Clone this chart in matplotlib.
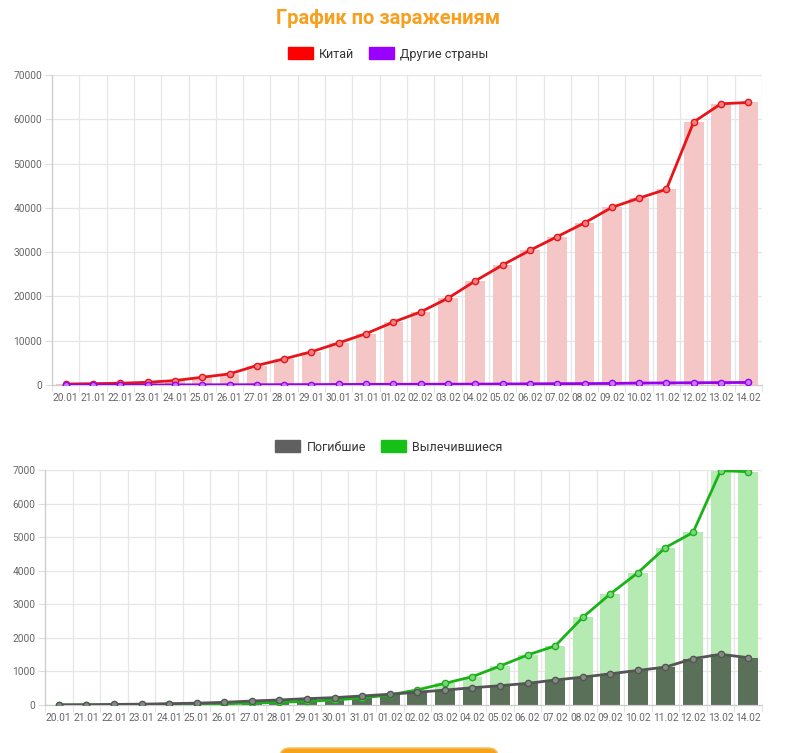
import matplotlib
matplotlib.use("Agg")
import matplotlib.pyplot as plt
from matplotlib.patches import Patch, FancyBboxPatch
import numpy as np

plt.rcParams['font.family'] = ['Roboto', 'DejaVu Sans']

dates = ["20.01", "21.01", "22.01", "23.01", "24.01", "25.01", "26.01", "27.01",
         "28.01", "29.01", "30.01", "31.01", "01.02", "02.02", "03.02", "04.02",
         "05.02", "06.02", "07.02", "08.02", "09.02", "10.02", "11.02", "12.02",
         "13.02", "14.02"]

china = [220, 300, 400, 620, 1000, 1750, 2500, 4400, 5900, 7500, 9500, 11600,
         14200, 16500, 19600, 23500, 27100, 30400, 33500, 36600, 40100, 42200,
         44200, 59400, 63500, 63800]
other = [4, 7, 10, 20, 30, 40, 56, 60, 76, 91, 116, 137, 151, 164, 179, 195,
         220, 260, 300, 320, 350, 440, 470, 510, 540, 580]

deaths = [6, 9, 17, 25, 40, 55, 80, 120, 150, 190, 220, 270, 320, 380, 445, 515,
          575, 645, 745, 830, 930, 1030, 1130, 1380, 1510, 1410]
recovered = [0, 0, 5, 10, 15, 25, 40, 55, 80, 110, 150, 210, 300, 450, 645, 845,
             1160, 1490, 1760, 2610, 3310, 3940, 4690, 5140, 6980, 6950]

W, H = 785, 753
fig = plt.figure(figsize=(W / 100, H / 100), dpi=100)

def fx(px):
    return px / W

def fy(py):
    return 1 - py / H

x = np.arange(len(dates))
tick_color = "#666666"
grid_color = "#e6e6e6"

def style_axes(ax, ymax, ystep):
    ax.set_xlim(-0.5, len(dates) - 0.5)
    ax.set_ylim(0, ymax)
    ax.set_yticks(np.arange(0, ymax + 1, ystep))
    ax.set_xticks(x)
    ax.set_xticklabels(dates)
    ax.set_xticks(np.arange(-0.5, len(dates)), minor=True)
    ax.set_yticks(np.arange(0, ymax + 1, ystep), minor=False)
    ax.grid(True, which='minor', axis='x', color=grid_color, lw=0.9)
    ax.grid(True, which='major', axis='y', color=grid_color, lw=0.9)
    ax.grid(False, which='major', axis='x')
    ax.tick_params(axis='x', which='major', length=0, pad=6, labelsize=7.3, colors=tick_color)
    ax.tick_params(axis='x', which='minor', length=5, color="#dddddd")
    ax.tick_params(axis='y', length=5, color="#dddddd", labelsize=7.3, colors=tick_color, pad=2)
    for s in ['top', 'right']:
        ax.spines[s].set_visible(False)
    for s in ['left', 'bottom']:
        ax.spines[s].set_color("#cccccc")
        ax.spines[s].set_linewidth(0.9)
    ax.set_axisbelow(True)

# Title
fig.text(fx(388), fy(18), "График по заражениям", ha='center', va='center',
         fontsize=14.5, fontweight='bold', color="#f7a01f")

# Top chart
ax1 = fig.add_axes([fx(52), fy(385), fx(762) - fx(52), fy(75) - fy(385)])
ax1.bar(x, china, width=0.72, color="#f4c6c6", zorder=1)
ax1.plot(x, china, color="#e8141a", lw=2, marker='o', ms=4.5,
         mfc="#f08080", mec="#e8141a", mew=1, zorder=3)
ax1.plot(x, other, color="#9a00f0", lw=2, marker='o', ms=4.5,
         mfc="#c77dff", mec="#9a00f0", mew=1, zorder=3)
style_axes(ax1, 70000, 10000)

fig.legend(handles=[Patch(facecolor="#ff0000", edgecolor="#ff0000"),
                    Patch(facecolor="#9900ff", edgecolor="#9900ff")],
           labels=["Китай", "Другие страны"], loc='center',
           bbox_to_anchor=(fx(388), fy(54)), ncol=2, frameon=False,
           fontsize=9, handlelength=2.0, handleheight=1.1, handletextpad=0.5,
           columnspacing=1.2, labelcolor="#333333")

# Bottom chart
ax2 = fig.add_axes([fx(45), fy(705), fx(762) - fx(45), fy(470) - fy(705)])
ax2.bar(x, recovered, width=0.72, color="#b5eab2", zorder=1)
ax2.bar(x, deaths, width=0.72, color="#5b7059", zorder=2)
ax2.plot(x, recovered, color="#19b319", lw=2, marker='o', ms=4.5,
         mfc="#7fd67f", mec="#19b319", mew=1, zorder=3)
ax2.plot(x, deaths, color="#555555", lw=2, marker='o', ms=4.5,
         mfc="#7f8f7f", mec="#555555", mew=1, zorder=4)
style_axes(ax2, 7000, 1000)

fig.legend(handles=[Patch(facecolor="#606060", edgecolor="#606060"),
                    Patch(facecolor="#16c016", edgecolor="#16c016")],
           labels=["Погибшие", "Вылечившиеся"], loc='center',
           bbox_to_anchor=(fx(389), fy(447)), ncol=2, frameon=False,
           fontsize=9, handlelength=2.0, handleheight=1.1, handletextpad=0.5,
           columnspacing=1.2, labelcolor="#333333")

# Orange button at bottom (cut off)
btn = FancyBboxPatch((fx(280), fy(770)), fx(498) - fx(280), fy(748) - fy(770),
                     boxstyle="round,pad=0,rounding_size=0.012",
                     transform=fig.transFigure, facecolor="#f7a21b",
                     edgecolor="#f7c060", lw=1)
fig.patches.append(btn)

fig.savefig("out.png", dpi=100)
